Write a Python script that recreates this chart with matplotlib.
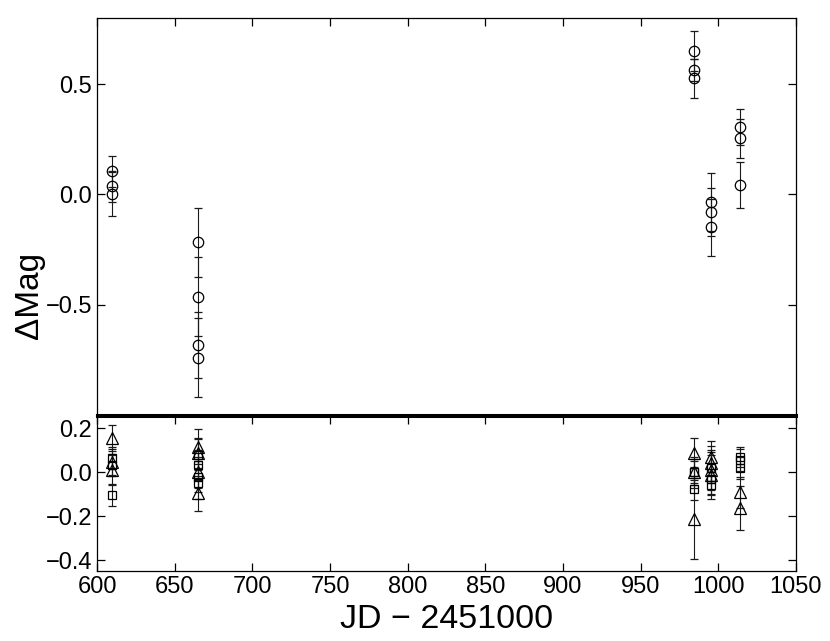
import numpy as np
import matplotlib.pyplot as plt

plt.rcParams['font.family'] = ['Liberation Sans', 'DejaVu Sans']

# top panel: circles (delta mag vs JD)
jd_top = [609.8, 609.8, 609.8,
          664.8, 664.8, 664.8, 664.8,
          984.2, 984.2, 984.2,
          995.2, 995.2, 995.2,
          1014.0, 1014.0, 1014.0]
mag_top = [0.105, 0.036, 0.0,
           -0.218, -0.464, -0.682, -0.740,
           0.649, 0.564, 0.526,
           -0.035, -0.080, -0.149,
           0.306, 0.255, 0.042]
err_top = [0.07, 0.07, 0.10,
           0.155, 0.18, 0.15, 0.18,
           0.09, 0.05, 0.09,
           0.13, 0.11, 0.13,
           0.08, 0.088, 0.105]

# bottom panel: triangles
jd_tri = [609.8, 609.8, 609.8,
          664.8, 664.8, 664.8, 664.8,
          984.2, 984.2, 984.2,
          995.2, 995.2, 995.2, 995.2,
          1014.0, 1014.0]
mag_tri = [0.156, 0.047, 0.010,
           0.115, 0.086, 0.0, -0.096,
           0.088, 0.0, -0.214,
           0.070, 0.040, 0.010, -0.014,
           -0.092, -0.162]
err_tri = [0.06, 0.06, 0.07,
           0.08, 0.07, 0.07, 0.08,
           0.065, 0.07, 0.18,
           0.07, 0.08, 0.09, 0.09,
           0.07, 0.10]

# bottom panel: squares
jd_sq = [609.8, 609.8, 609.8,
         664.8, 664.8, 664.8, 664.8,
         984.2, 984.2, 984.2,
         995.2, 995.2, 995.2,
         1014.0, 1014.0, 1014.0]
mag_sq = [0.062, 0.032, -0.105,
          0.080, 0.032, -0.021, -0.050,
          0.0, 0.0, -0.077,
          0.020, -0.030, -0.060,
          0.070, 0.055, 0.017]
err_sq = [0.05, 0.05, 0.05,
          0.07, 0.07, 0.07, 0.07,
          0.05, 0.06, 0.05,
          0.07, 0.07, 0.06,
          0.045, 0.05, 0.05]

fig = plt.figure(figsize=(8.3, 6.41), dpi=100)
ax1 = fig.add_axes([0.117, 0.3526, 0.842, 0.972 - 0.3526])
ax2 = fig.add_axes([0.117, 0.109, 0.842, 0.3510 - 0.109])

ekw = dict(ls='none', ecolor='#1a1a1a', elinewidth=0.8, capsize=3,
           capthick=0.8, mfc='none', mec='black', mew=0.9)

ax1.errorbar(jd_top, mag_top, yerr=err_top, fmt='o', ms=7.5, **ekw)
ax2.errorbar(jd_tri, mag_tri, yerr=err_tri, fmt='^', ms=8, **ekw)
ax2.errorbar(jd_sq, mag_sq, yerr=err_sq, fmt='s', ms=6, **ekw)

ax1.set_xlim(600, 1050)
ax1.set_ylim(-1.0, 0.8)
ax2.set_xlim(600, 1050)
ax2.set_ylim(-0.45, 0.255)

ax1.set_yticks([-0.5, 0.0, 0.5])
ax1.set_yticklabels(['\u22120.5', '0.0', '0.5'])
ax2.set_yticks([-0.4, -0.2, 0.0, 0.2])
ax2.set_yticklabels(['\u22120.4', '\u22120.2', '0.0', '0.2'])
xt = np.arange(600, 1051, 50)
ax1.set_xticks(xt)
ax1.set_xticklabels([])
ax2.set_xticks(xt)

for ax in (ax1, ax2):
    ax.tick_params(direction='in', top=True, right=True, length=6,
                   width=0.9, labelsize=17)
    for s in ax.spines.values():
        s.set_linewidth(0.9)
ax1.spines['bottom'].set_linewidth(2.2)
ax2.spines['top'].set_linewidth(2.2)
ax1.tick_params(axis='x', bottom=False)

ax1.set_ylabel('\u0394Mag', fontsize=24)
ax1.yaxis.set_label_coords(-0.074, 0.30)
ax2.set_xlabel('JD \u2212 2451000', fontsize=24.5, labelpad=4)

fig.savefig('out.png', dpi=100)
